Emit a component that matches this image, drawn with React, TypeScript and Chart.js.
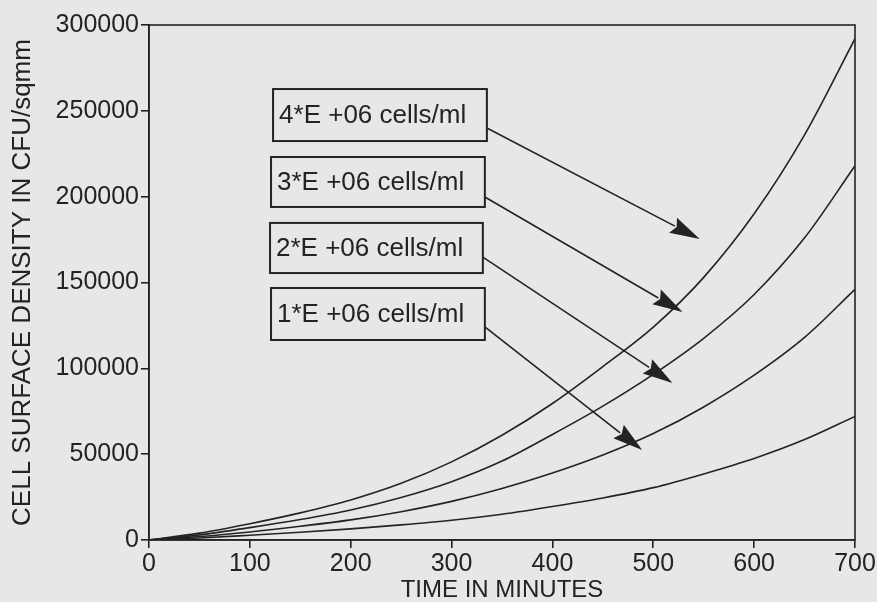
import React, { useEffect, useRef } from "react";
import { Chart, registerables } from "chart.js";

Chart.register(...registerables);

// ---- data ----
const times = [0, 50, 100, 150, 200, 250, 300, 350, 400, 450, 500, 550, 600, 650, 700];
const conc4 = [0, 4000, 9500, 15800, 23300, 33000, 45500, 61000, 79500, 101000, 124000, 153000, 190000, 236000, 292000];
const conc3 = [0, 3000, 7200, 11900, 17500, 24800, 34000, 46000, 61500, 78000, 96500, 117500, 143000, 176000, 218000];
const conc2 = [0, 2000, 4700, 8000, 11700, 16500, 22500, 30000, 39000, 49500, 62000, 77500, 96000, 118000, 146000];
const conc1 = [0, 1200, 2800, 4500, 6500, 8800, 11500, 15000, 19500, 24500, 30500, 38500, 47500, 58500, 72000];
const seriesList = [conc4, conc3, conc2, conc1];

const xTicks = [0, 100, 200, 300, 400, 500, 600, 700];
const yTicks = [0, 50000, 100000, 150000, 200000, 250000, 300000];

// annotation boxes (data coordinates)
const boxLabels = ["4*E +06 cells/ml", "3*E +06 cells/ml", "2*E +06 cells/ml", "1*E +06 cells/ml"];
const boxLeft = [123, 121, 120, 121];
const boxRight = [335, 333, 331, 333];
const boxTop = [262700, 223100, 184700, 146800];
const boxBottom = [232400, 194000, 155500, 116500];
const arrowStartX = [335, 333, 331, 333];
const arrowStartY = [240000, 199800, 164800, 124100];
const arrowTipX = [546, 529, 519, 489];
const arrowTipY = [175300, 132800, 91500, 52400];

const BG = "#e7e7e6";
const INK = "#232323";
const FONT = "'Liberation Sans', Arial, Helvetica, sans-serif";

const paperPlugin = {
  id: "paper",
  beforeDraw(chart: any) {
    const { ctx, width, height } = chart;
    ctx.save();
    ctx.fillStyle = BG;
    ctx.fillRect(0, 0, width, height);
    ctx.restore();
  },
};

const framePlugin = {
  id: "frameAndNotes",
  afterDraw(chart: any) {
    const { ctx, chartArea } = chart;
    const xs = chart.scales.x;
    const ys = chart.scales.y;
    ctx.save();
    ctx.strokeStyle = INK;
    ctx.lineWidth = 1.6;
    ctx.strokeRect(chartArea.left, chartArea.top, chartArea.right - chartArea.left, chartArea.bottom - chartArea.top);

    for (let i = 0; i < boxLabels.length; i++) {
      const l = xs.getPixelForValue(boxLeft[i]);
      const r = xs.getPixelForValue(boxRight[i]);
      const t = ys.getPixelForValue(boxTop[i]);
      const b = ys.getPixelForValue(boxBottom[i]);
      ctx.lineWidth = 2;
      ctx.strokeStyle = INK;
      ctx.strokeRect(l, t, r - l, b - t);
      ctx.fillStyle = INK;
      ctx.font = `26px ${FONT}`;
      ctx.textBaseline = "middle";
      ctx.textAlign = "left";
      ctx.fillText(boxLabels[i], l + 6, (t + b) / 2 + 1);

      const sx = xs.getPixelForValue(arrowStartX[i]);
      const sy = ys.getPixelForValue(arrowStartY[i]);
      const tx = xs.getPixelForValue(arrowTipX[i]);
      const ty = ys.getPixelForValue(arrowTipY[i]);
      const ang = Math.atan2(ty - sy, tx - sx);
      const len = 30;
      const half = 8.5;
      const bx = tx - len * Math.cos(ang);
      const by = ty - len * Math.sin(ang);
      ctx.lineWidth = 1.6;
      ctx.beginPath();
      ctx.moveTo(sx, sy);
      ctx.lineTo(bx + 2 * Math.cos(ang), by + 2 * Math.sin(ang));
      ctx.stroke();
      ctx.beginPath();
      ctx.moveTo(tx, ty);
      ctx.lineTo(bx + half * Math.sin(ang), by - half * Math.cos(ang));
      ctx.lineTo(bx + 4 * Math.cos(ang), by + 4 * Math.sin(ang));
      ctx.lineTo(bx - half * Math.sin(ang), by + half * Math.cos(ang));
      ctx.closePath();
      ctx.fill();
    }
    ctx.restore();
  },
};

export default function App() {
  const ref = useRef<HTMLCanvasElement | null>(null);

  useEffect(() => {
    document.body.style.margin = "0";
    document.body.style.background = BG;
    const canvas = ref.current;
    if (!canvas) return;
    const chart = new Chart(canvas, {
      type: "line",
      data: {
        datasets: seriesList.map((s, k) => ({
          label: boxLabels[k],
          data: times.map((t, i) => ({ x: t, y: s[i] })),
          borderColor: INK,
          borderWidth: 1.6,
          pointRadius: 0,
          fill: false,
          cubicInterpolationMode: "monotone" as const,
        })),
      },
      options: {
        responsive: false,
        animation: false,
        devicePixelRatio: 1,
        layout: { padding: { top: 25, right: 22, left: 0, bottom: 0 } },
        plugins: {
          legend: { display: false },
          tooltip: { enabled: false },
        },
        scales: {
          x: {
            type: "linear",
            min: 0,
            max: 700,
            afterFit: (s: any) => {
              s.height = 62;
            },
            afterBuildTicks: (s: any) => {
              s.ticks = xTicks.map((v) => ({ value: v }));
            },
            border: { display: true, color: INK, width: 1.6 },
            grid: { display: true, drawOnChartArea: false, drawTicks: true, tickLength: 8, color: INK, lineWidth: 1.6 },
            ticks: {
              color: INK,
              font: { family: FONT, size: 25 },
              padding: 1,
              maxRotation: 0,
              callback: (v: any) => String(v),
            },
            title: {
              display: true,
              text: "TIME IN MINUTES",
              color: INK,
              font: { family: FONT, size: 24, lineHeight: 1 },
              padding: { top: 0, bottom: 0 },
            },
          },
          y: {
            type: "linear",
            min: 0,
            max: 300000,
            afterFit: (s: any) => {
              s.width = 149;
            },
            afterBuildTicks: (s: any) => {
              s.ticks = yTicks.map((v) => ({ value: v }));
            },
            border: { display: true, color: INK, width: 1.6 },
            grid: { display: true, drawOnChartArea: false, drawTicks: true, tickLength: 8, color: INK, lineWidth: 1.6 },
            ticks: {
              color: INK,
              font: { family: FONT, size: 25 },
              padding: 2,
              callback: (v: any) => String(v),
            },
            title: {
              display: true,
              text: "CELL SURFACE DENSITY IN CFU/sqmm",
              color: INK,
              font: { family: FONT, size: 26, lineHeight: 1 },
              padding: { top: 10, bottom: 0 },
            },
          },
        },
      },
      plugins: [paperPlugin, framePlugin],
    });
    return () => chart.destroy();
  }, []);

  return (
    <div style={{ position: "fixed", left: 0, top: 0, width: 877, height: 602 }}>
      <canvas ref={ref} width={877} height={602} style={{ display: "block" }} />
    </div>
  );
}
